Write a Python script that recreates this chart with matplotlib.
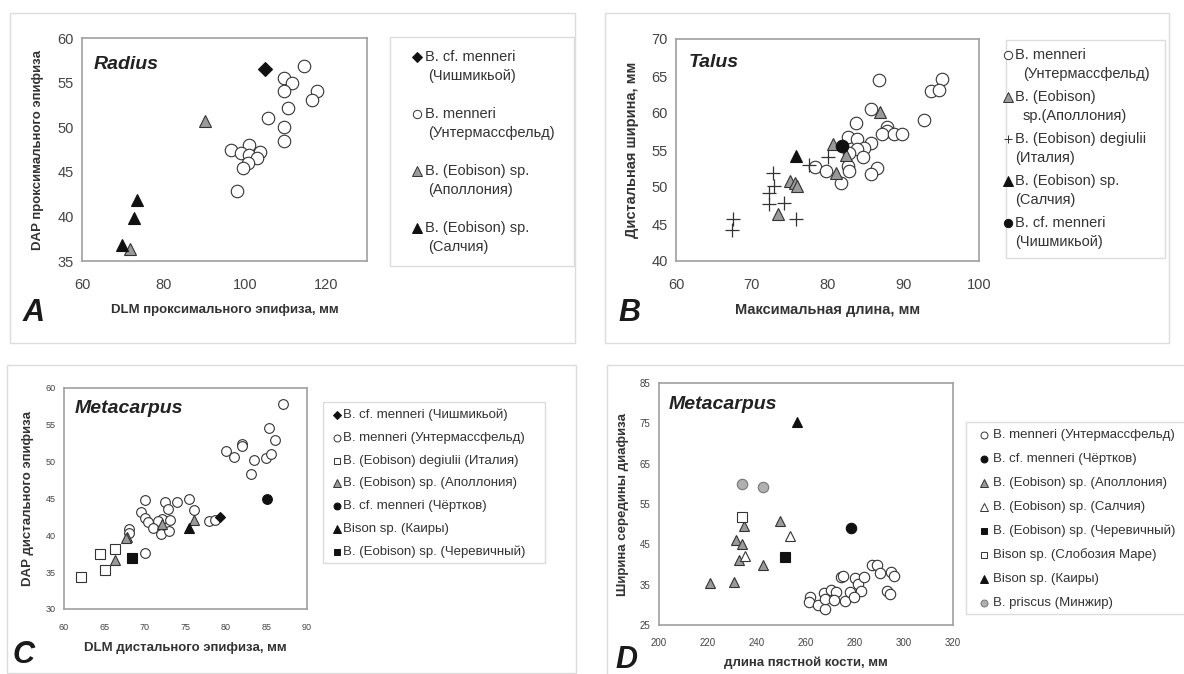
import matplotlib.pyplot as plt
from matplotlib.patches import Rectangle
from matplotlib.lines import Line2D

plt.rcParams['font.family'] = ['Liberation Sans', 'DejaVu Sans']

W, H = 1184, 674

# --- A: Radius ---
a_chish_x = [105.0]
a_chish_y = [56.5]
a_unter_x = [114.6, 109.6, 111.6, 109.7, 117.8, 116.5, 110.5, 105.6, 109.7, 109.7,
             96.6, 101.1, 99.1, 101.1, 103.7, 103.1, 100.7, 99.5, 98.0]
a_unter_y = [56.9, 55.5, 55.0, 54.1, 54.1, 53.0, 52.1, 51.0, 50.0, 48.5,
             47.4, 48.0, 47.1, 46.9, 47.2, 46.5, 46.0, 45.4, 42.9]
a_apol_x = [90.2, 71.8]
a_apol_y = [50.7, 36.4]
a_salch_x = [73.6, 72.8, 69.8]
a_salch_y = [41.8, 39.8, 36.8]

# --- B: Talus ---
b_unter_x = [86.75, 95.1, 93.6, 94.7, 92.7, 85.7, 83.7, 87.9, 87.8, 87.2, 88.8, 89.8, 82.7,
             83.9, 85.8, 84.8, 83.9, 82.9, 84.7, 78.3, 79.8, 82.7, 82.9, 86.5, 85.7, 81.8]
b_unter_y = [64.4, 64.6, 63.0, 63.1, 59.05, 60.5, 58.7, 58.1, 57.6, 57.1, 57.1, 57.1, 56.8,
             56.5, 56.0, 55.3, 55.1, 54.6, 54.1, 52.7, 52.1, 52.8, 52.1, 52.6, 51.7, 50.5]
b_apol_x = [86.9, 80.7, 82.5, 81.1, 75.0, 75.7, 76.0, 73.4]
b_apol_y = [60.1, 55.8, 54.3, 51.9, 50.8, 50.5, 50.2, 46.4]
b_ital_x = [67.5, 67.4, 72.8, 72.9, 72.3, 72.3, 74.2, 75.9, 77.6, 80.0]
b_ital_y = [45.7, 44.2, 51.9, 50.1, 49.2, 47.7, 47.9, 45.7, 53.0, 54.1]
b_salch_x = [75.8]
b_salch_y = [54.2]
b_chish_x = [81.9]
b_chish_y = [55.6]

# --- C: Metacarpus (DLM / DAP) ---
c_chish_x = [79.3]
c_chish_y = [42.45]
c_unter_x = [87.0, 85.3, 86.0, 82.0, 82.0, 80.0, 81.0, 83.5, 84.9, 85.6, 83.1, 70.0, 72.5,
             73.95, 75.4, 72.9, 76.0, 69.5, 70.0, 70.4, 72.1, 71.6, 73.1, 70.95, 72.0, 73.0,
             77.9, 78.6, 68.0, 68.0, 70.0]
c_unter_y = [57.8, 54.6, 53.0, 52.35, 52.1, 51.5, 50.7, 50.2, 50.5, 51.0, 48.3, 44.75, 44.55,
             44.55, 45.0, 43.6, 43.5, 43.1, 42.4, 41.85, 42.2, 41.95, 42.1, 40.95, 40.2, 40.6,
             42.0, 42.1, 40.9, 40.3, 37.55]
c_ital_x = [62.1, 64.5, 66.3, 65.0]
c_ital_y = [34.4, 37.4, 38.2, 35.3]
c_apol_x = [67.8, 67.6, 72.1, 76.1, 66.3]
c_apol_y = [39.8, 39.6, 41.6, 42.1, 36.65]
c_chert_x = [85.1]
c_chert_y = [45.0]
c_kairy_x = [75.4]
c_kairy_y = [40.95]
c_cherev_x = [68.4]
c_cherev_y = [36.96]

# --- D: Metacarpus (length / width) ---
d_unter_x = [261.6, 261.4, 265.0, 267.9, 267.4, 267.9, 270.1, 272.4, 271.3, 276.1, 274.4,
             275.3, 278.1, 280.2, 281.4, 283.5, 282.4, 279.7, 287.1, 288.9, 290.1, 294.8,
             295.8, 293.2, 294.3]
d_unter_y = [32.0, 30.8, 29.95, 28.9, 32.85, 31.4, 33.8, 33.2, 31.2, 31.0, 37.0,
             37.15, 33.2, 36.7, 35.2, 37.0, 33.4, 32.0, 39.9, 39.9, 38.0, 38.2,
             37.1, 33.4, 32.8]
d_chert_x = [278.4]
d_chert_y = [49.1]
d_apol_x = [234.8, 249.5, 231.4, 233.8, 232.7, 242.4, 220.7, 230.5]
d_apol_y = [49.5, 50.85, 46.0, 45.1, 41.1, 39.9, 35.3, 35.7]
d_salch_x = [253.3, 235.2]
d_salch_y = [47.0, 42.2]
d_cherev_x = [251.3]
d_cherev_y = [41.9]
d_slob_x = [233.8]
d_slob_y = [51.7]
d_kairy_x = [256.5]
d_kairy_y = [75.25]
d_minzh_x = [233.7, 242.4]
d_minzh_y = [59.95, 59.1]

GREY = '#9a9a9a'
EDGE = '#333333'
BLACK = '#111111'
TXT = '#333333'

# legend markers: triangles look small and diamonds big at the same size
MS_SCALE = {'^': 1.15, 'D': 0.8, 's': 0.9}


def px_box(l, t, r, b):
    return [l / W, 1 - b / H, (r - l) / W, (b - t) / H]


def frame(l, t, r, b, color='#dcdcdc'):
    fig.add_artist(Rectangle((l / W, 1 - b / H), (r - l) / W, (b - t) / H,
                             transform=fig.transFigure, fill=False,
                             edgecolor=color, lw=1.0))


def pts(ax, x, y, marker, ms, fc, ec=EDGE, label=None, z=3, mew=0.8):
    return ax.plot(x, y, ls='none', marker=marker, ms=ms, mfc=fc, mec=ec,
                   mew=mew, label=label, zorder=z)[0]


def style(ax, tick_fs, xpad, ypad):
    for s in ax.spines.values():
        s.set_color('#a0a0a0')
        s.set_linewidth(1.2)
    ax.tick_params(length=0, labelsize=tick_fs, labelcolor='#444444')
    ax.tick_params(axis='x', pad=xpad)
    ax.tick_params(axis='y', pad=ypad)


def legend(handles, fs, mx, tx, y0, pitch, gap=19, indent=None, ms=5.5):
    # hand-made legend: marker next to the first line, second line below
    for i, h in enumerate(handles):
        y = y0 + i * pitch
        mk = h.get_marker()
        fig.add_artist(Line2D([mx / W], [1 - y / H], transform=fig.transFigure,
                              ls='none', marker=mk, ms=ms * MS_SCALE.get(mk, 1.0),
                              mfc=h.get_markerfacecolor(), mec=h.get_markeredgecolor(),
                              mew=0.7))
        lines = h.get_label().split('\n')
        for j, line in enumerate(lines):
            x = tx
            if j > 0 and indent and indent[i]:
                x += indent[i]
            fig.text(x / W, 1 - (y + j * gap) / H, line, fontsize=fs, color=TXT,
                     ha='left', va='center')


fig = plt.figure(figsize=(W / 100, H / 100), dpi=100)

# outer frames
frame(10, 13, 575, 343)
frame(605, 13, 1169, 343)
frame(7, 365, 576, 673)
frame(607, 365, 1190, 680)
# legend boxes
frame(390, 37, 574, 266)
frame(1006, 40, 1165, 258)
frame(323, 402, 545, 563)
frame(966, 422, 1190, 614)

# ---------- A ----------
ax = fig.add_axes(px_box(82, 38, 367, 261))
h1 = pts(ax, a_chish_x, a_chish_y, 'D', 7.5, BLACK, BLACK, 'B. cf. menneri\n(Чишмикьой)', z=5)
h2 = pts(ax, a_unter_x, a_unter_y, 'o', 9, 'white', label='B. menneri\n(Унтермассфельд)')
h3 = pts(ax, a_apol_x, a_apol_y, '^', 9, GREY, label='B. (Eobison) sp.\n(Аполлония)')
h4 = pts(ax, a_salch_x, a_salch_y, '^', 9, BLACK, BLACK, 'B. (Eobison) sp.\n(Салчия)')
ax.set_xlim(60, 130)
ax.set_ylim(35, 60)
ax.set_xticks([60, 80, 100, 120])
ax.set_yticks(range(35, 61, 5))
style(ax, 10.5, 12, 6)
ax.set_xlabel('DLM проксимального эпифиза, мм', fontsize=9.5, fontweight='bold', color=TXT, va='center')
ax.xaxis.set_label_coords(0.5, -0.22)
ax.set_ylabel('DAP проксимального эпифиза', fontsize=9.5, fontweight='bold', color=TXT, va='center')
ax.yaxis.set_label_coords(-0.154, 0.5)
ax.text(0.042, 0.879, 'Radius', transform=ax.transAxes, fontsize=14, fontweight='bold',
        style='italic', color='#222222', va='center')
legend([h1, h2, h3, h4], 10.5, 417, 425, 57, 57, 19, [3, 3, 3, 3], ms=6)

# ---------- B ----------
ax = fig.add_axes(px_box(676, 39, 979, 261))
g1 = pts(ax, b_unter_x, b_unter_y, 'o', 9, 'white', label='B. menneri\n(Унтермассфельд)')
g2 = pts(ax, b_apol_x, b_apol_y, '^', 9, GREY, label='B. (Eobison)\nsp.(Аполлония)', z=4)
g3 = pts(ax, b_ital_x, b_ital_y, '+', 10, EDGE, EDGE, 'B. (Eobison) degiulii\n(Италия)', mew=0.9)
g4 = pts(ax, b_salch_x, b_salch_y, '^', 9, BLACK, BLACK, 'B. (Eobison) sp.\n(Салчия)', z=5)
g5 = pts(ax, b_chish_x, b_chish_y, 'o', 9, BLACK, BLACK, 'B. cf. menneri\n(Чишмикьой)', z=5)
ax.set_xlim(60, 100)
ax.set_ylim(40, 70)
ax.set_xticks(range(60, 101, 10))
ax.set_yticks(range(40, 71, 5))
style(ax, 10.5, 12, 6)
ax.set_xlabel('Максимальная длина, мм', fontsize=10.5, fontweight='bold', color=TXT, va='center')
ax.xaxis.set_label_coords(0.5, -0.22)
ax.set_ylabel('Дистальная ширина, мм', fontsize=10.5, fontweight='bold', color=TXT, va='center')
ax.yaxis.set_label_coords(-0.145, 0.5)
ax.text(0.043, 0.892, 'Talus', transform=ax.transAxes, fontsize=14, fontweight='bold',
        style='italic', color='#222222', va='center')
legend([g1, g2, g3, g4, g5], 10.5, 1008, 1015, 55, 42, 19, [8, 8, 0, 0, 0], ms=6)

# ---------- C ----------
ax = fig.add_axes(px_box(64, 388, 307, 609))
k1 = pts(ax, c_chish_x, c_chish_y, 'D', 5.5, BLACK, BLACK, 'B. cf. menneri (Чишмикьой)', z=6)
k2 = pts(ax, c_unter_x, c_unter_y, 'o', 7, 'white', label='B. menneri (Унтермассфельд)')
k3 = pts(ax, c_ital_x, c_ital_y, 's', 7, 'white', label='B. (Eobison) degiulii (Италия)')
k4 = pts(ax, c_apol_x, c_apol_y, '^', 7, GREY, label='B. (Eobison) sp. (Аполлония)', z=4)
k5 = pts(ax, c_chert_x, c_chert_y, 'o', 7, BLACK, BLACK, 'B. cf. menneri (Чёртков)', z=5)
k6 = pts(ax, c_kairy_x, c_kairy_y, '^', 7, BLACK, BLACK, 'Bison sp. (Каиры)', z=5)
k7 = pts(ax, c_cherev_x, c_cherev_y, 's', 7, BLACK, BLACK, 'B. (Eobison) sp. (Черевичный)', z=5)
ax.set_xlim(60, 90)
ax.set_ylim(30, 60)
ax.set_xticks(range(60, 91, 5))
ax.set_yticks(range(30, 61, 5))
style(ax, 6.5, 10, 6)
ax.set_xlabel('DLM дистального эпифиза, мм', fontsize=9.5, fontweight='bold', color=TXT, va='center')
ax.xaxis.set_label_coords(0.5, -0.176)
ax.set_ylabel('DAP дистального эпифиза', fontsize=9.5, fontweight='bold', color=TXT, va='center')
ax.yaxis.set_label_coords(-0.148, 0.5)
ax.text(0.045, 0.905, 'Metacarpus', transform=ax.transAxes, fontsize=14, fontweight='bold',
        style='italic', color='#222222', va='center')
legend([k1, k2, k3, k4, k5, k6, k7], 9.5, 337, 343, 415, 22.8, ms=5)

# ---------- D ----------
ax = fig.add_axes(px_box(659, 383, 953, 625))
m1 = pts(ax, d_unter_x, d_unter_y, 'o', 7.5, 'white', label='B. menneri (Унтермассфельд)')
m2 = pts(ax, d_chert_x, d_chert_y, 'o', 7.5, BLACK, BLACK, 'B. cf. menneri (Чёртков)', z=5)
m3 = pts(ax, d_apol_x, d_apol_y, '^', 7.5, GREY, label='B. (Eobison) sp. (Аполлония)', z=4)
m4 = pts(ax, d_salch_x, d_salch_y, '^', 7.5, 'white', label='B. (Eobison) sp. (Салчия)', z=4)
m5 = pts(ax, d_cherev_x, d_cherev_y, 's', 7.5, BLACK, BLACK, 'B. (Eobison) sp. (Черевичный)', z=5)
m6 = pts(ax, d_slob_x, d_slob_y, 's', 7.5, 'white', label='Bison sp. (Слобозия Маре)', z=5)
m7 = pts(ax, d_kairy_x, d_kairy_y, '^', 7.5, BLACK, BLACK, 'Bison sp. (Каиры)', z=5)
m8 = pts(ax, d_minzh_x, d_minzh_y, 'o', 7.5, '#b0b0b0', '#777777', 'B. priscus (Минжир)', z=5)
ax.set_xlim(200, 320)
ax.set_ylim(25, 85)
ax.set_xticks(range(200, 321, 20))
ax.set_yticks(range(25, 86, 10))
style(ax, 7, 9, 6)
ax.set_xlabel('длина пястной кости, мм', fontsize=9.5, fontweight='bold', color=TXT, va='center')
ax.xaxis.set_label_coords(0.5, -0.157)
ax.set_ylabel('Ширина середины диафиза', fontsize=9.5, fontweight='bold', color=TXT, va='center')
ax.yaxis.set_label_coords(-0.122, 0.5)
ax.text(0.034, 0.913, 'Metacarpus', transform=ax.transAxes, fontsize=14, fontweight='bold',
        style='italic', color='#222222', va='center')
legend([m1, m2, m3, m4, m5, m6, m7, m8], 9.5, 984, 993, 435, 24, ms=5)

# panel letters
for letter, lx, ly in [('A', 34, 313), ('B', 629, 313), ('C', 24, 655), ('D', 626, 660)]:
    fig.text(lx / W, 1 - ly / H, letter, fontsize=22, fontweight='bold', style='italic',
             color='#1a1a1a', ha='center', va='center')

fig.savefig('out.png', dpi=100)
